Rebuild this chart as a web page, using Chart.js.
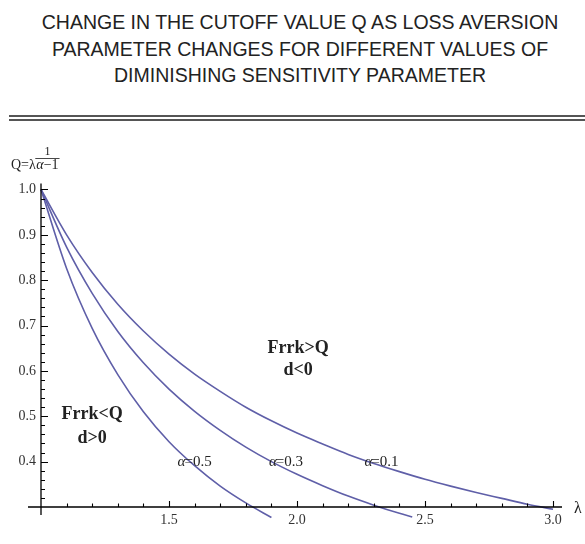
<!DOCTYPE html>
<html>
<head>
<meta charset="utf-8">
<script src="https://cdn.jsdelivr.net/npm/chart.js@4.4.1/dist/chart.umd.min.js"></script>
<style>
  html, body { margin: 0; padding: 0; background: #fff; }
  #wrap { position: relative; width: 585px; height: 544px; overflow: hidden; }
  #title { position: absolute; left: 0; top: 9px; width: 600px; text-align: center;
    font-family: "Liberation Sans", Arial, sans-serif; font-size: 19.5px; line-height: 26.5px; color: #222; }
  .rule { position: absolute; left: 9px; right: 0; height: 2px; background: #555; }
  canvas { position: absolute; left: 0; top: 0; }
</style>
</head>
<body>
<div id="wrap">
  <div id="title">CHANGE IN THE CUTOFF VALUE Q AS LOSS AVERSION<br>PARAMETER CHANGES FOR DIFFERENT VALUES OF<br>DIMINISHING SENSITIVITY PARAMETER</div>
  <div class="rule" style="top:115px"></div>
  <div class="rule" style="top:118.6px"></div>
  <canvas id="c" width="585" height="544"></canvas>
</div>
<script>
// ---- data ----
const lambdaA01 = [1.0, 1.1, 1.2, 1.3, 1.4, 1.5, 1.6, 1.7, 1.8, 1.9, 2.0, 2.1, 2.2, 2.3, 2.4, 2.5, 2.6, 2.7, 2.8, 2.9, 3.0];
const qA01      = [1.000, 0.900, 0.817, 0.747, 0.688, 0.637, 0.593, 0.555, 0.520, 0.490, 0.463, 0.439, 0.416, 0.396, 0.378, 0.361, 0.346, 0.332, 0.319, 0.306, 0.295];
const lambdaA03 = [1.0, 1.1, 1.2, 1.3, 1.4, 1.5, 1.6, 1.7, 1.8, 1.9, 2.0, 2.1, 2.2, 2.3, 2.4, 2.45];
const qA03      = [1.000, 0.873, 0.771, 0.687, 0.618, 0.560, 0.511, 0.469, 0.432, 0.400, 0.372, 0.347, 0.324, 0.304, 0.286, 0.278];
const lambdaA05 = [1.0, 1.1, 1.2, 1.3, 1.4, 1.5, 1.6, 1.7, 1.8, 1.9];
const qA05      = [1.000, 0.826, 0.694, 0.592, 0.510, 0.444, 0.391, 0.346, 0.309, 0.277];
const seriesNames = ["α=0.1", "α=0.3", "α=0.5"];
const xTickLabels = [1.5, 2.0, 2.5, 3.0];
const yTickLabels = [0.4, 0.5, 0.6, 0.7, 0.8, 0.9, 1.0];
// label anchors (data units)
const curveLabels = [
  { text: "0.5", x: 1.60, y: 0.40 },
  { text: "0.3", x: 1.957, y: 0.40 },
  { text: "0.1", x: 2.33, y: 0.40 }
];
const regionLabels = [
  { lines: ["Frrk>Q", "d<0"], x: 2.004, y: [0.649, 0.6005] },
  { lines: ["Frrk<Q", "d>0"], x: 1.20, y: [0.5036, 0.4508] }
];

const pts = (xs, ys) => xs.map((x, i) => ({ x: x, y: ys[i] }));
const curveColor = "#5f5fa8";
const SERIF = "'Liberation Serif', 'Times New Roman', serif";

const decor = {
  id: "decor",
  afterDatasetsDraw(chart) {
    const ctx = chart.ctx;
    const xs = chart.scales.x, ys = chart.scales.y;
    const x0 = xs.getPixelForValue(1.0);
    const yb = ys.getPixelForValue(0.3);
    ctx.save();
    ctx.strokeStyle = "#000";
    ctx.lineWidth = 1.3;
    // axes
    ctx.beginPath();
    ctx.moveTo(x0, chart.chartArea.top);
    ctx.lineTo(x0, yb + 8);
    ctx.moveTo(x0 - 13, yb);
    ctx.lineTo(chart.chartArea.right, yb);
    ctx.stroke();
    // y ticks (inward)
    ctx.lineWidth = 1.1;
    ctx.beginPath();
    for (let i = 16; i <= 50; i++) {
      const py = Math.round(ys.getPixelForValue(i / 50)) + 0.5;
      const len = (i % 5 === 0) ? 7 : 4;
      ctx.moveTo(x0, py);
      ctx.lineTo(x0 + len, py);
    }
    // x ticks (inward)
    for (let i = 11; i <= 30; i++) {
      const px = Math.round(xs.getPixelForValue(i / 10)) + 0.5;
      const len = (i % 5 === 0) ? 6 : 3.5;
      ctx.moveTo(px, yb);
      ctx.lineTo(px, yb - len);
    }
    ctx.stroke();

    // axis labels
    ctx.fillStyle = "#222";
    ctx.textBaseline = "alphabetic";
    ctx.textAlign = "left";
    ctx.font = "16px " + SERIF;
    ctx.fillText("λ", 574, yb + 6);
    // y axis label Q=λ^(1/(α-1))
    ctx.font = "14px " + SERIF;
    ctx.fillText("Q=λ", 11, 169);
    let xx = 11 + ctx.measureText("Q=λ").width + 0.5;
    ctx.font = "italic 14px " + SERIF;
    ctx.fillText("α", xx, 169);
    const xa = xx;
    xx += ctx.measureText("α").width;
    ctx.font = "14px " + SERIF;
    ctx.fillText("−1", xx, 169);
    const xe = xx + ctx.measureText("−1").width;
    ctx.textAlign = "center";
    ctx.font = "12px " + SERIF;
    ctx.fillText("1", (xa + xe) / 2, 155);
    ctx.beginPath();
    ctx.lineWidth = 0.9;
    ctx.strokeStyle = "#333";
    ctx.moveTo(xa - 1, 158.5);
    ctx.lineTo(xe + 1, 158.5);
    ctx.stroke();

    // curve labels
    ctx.textBaseline = "middle";
    curveLabels.forEach(l => {
      const px = xs.getPixelForValue(l.x), py = ys.getPixelForValue(l.y);
      ctx.font = "italic 15px " + SERIF;
      const a = "α", eq = "=" + l.text;
      const wa = ctx.measureText(a).width;
      ctx.font = "15px " + SERIF;
      const we = ctx.measureText(eq).width;
      const left = px - (wa + we) / 2 + 0.5;
      ctx.textAlign = "left";
      ctx.font = "italic 15px " + SERIF;
      ctx.fillText(a, left, py);
      ctx.font = "15px " + SERIF;
      ctx.fillText(eq, left + wa - 1, py);
    });

    // region labels
    ctx.textAlign = "center";
    ctx.font = "bold 18px " + SERIF;
    regionLabels.forEach(r => {
      const px = xs.getPixelForValue(r.x);
      r.lines.forEach((t, i) => {
        ctx.fillText(t, px, ys.getPixelForValue(r.y[i]));
      });
    });
    ctx.restore();
  }
};

const mkDs = (label, xs, ys) => ({
  label: label,
  data: pts(xs, ys),
  borderColor: curveColor,
  borderWidth: 1.6,
  pointRadius: 0,
  fill: false,
  cubicInterpolationMode: "monotone",
  clip: false
});

new Chart(document.getElementById("c"), {
  type: "line",
  data: {
    datasets: [
      mkDs(seriesNames[0], lambdaA01, qA01),
      mkDs(seriesNames[1], lambdaA03, qA03),
      mkDs(seriesNames[2], lambdaA05, qA05)
    ]
  },
  options: {
    responsive: false,
    animation: false,
    devicePixelRatio: 1,
    layout: { padding: { top: 183.6, left: 0, right: 23, bottom: 0 } },
    plugins: { legend: { display: false }, tooltip: { enabled: false }, title: { display: false } },
    scales: {
      x: {
        type: "linear",
        min: 1.0,
        max: 3.035,
        afterBuildTicks: s => { s.ticks = xTickLabels.map(v => ({ value: v })); },
        afterFit: s => { s.height = 37; },
        grid: { display: false, drawTicks: false },
        border: { display: false },
        ticks: {
          padding: 5,
          color: "#333",
          font: { family: SERIF, size: 14 },
          maxRotation: 0,
          autoSkip: false,
          callback: v => Number(v).toFixed(1)
        }
      },
      y: {
        type: "linear",
        min: 0.3,
        max: 1.013,
        afterBuildTicks: s => { s.ticks = yTickLabels.map(v => ({ value: v })); },
        afterFit: s => { s.width = 41; },
        grid: { display: false, drawTicks: false },
        border: { display: false },
        ticks: {
          padding: 5,
          color: "#333",
          font: { family: SERIF, size: 14 },
          autoSkip: false,
          callback: v => Number(v).toFixed(1)
        }
      }
    }
  },
  plugins: [decor]
});
</script>
</body>
</html>
